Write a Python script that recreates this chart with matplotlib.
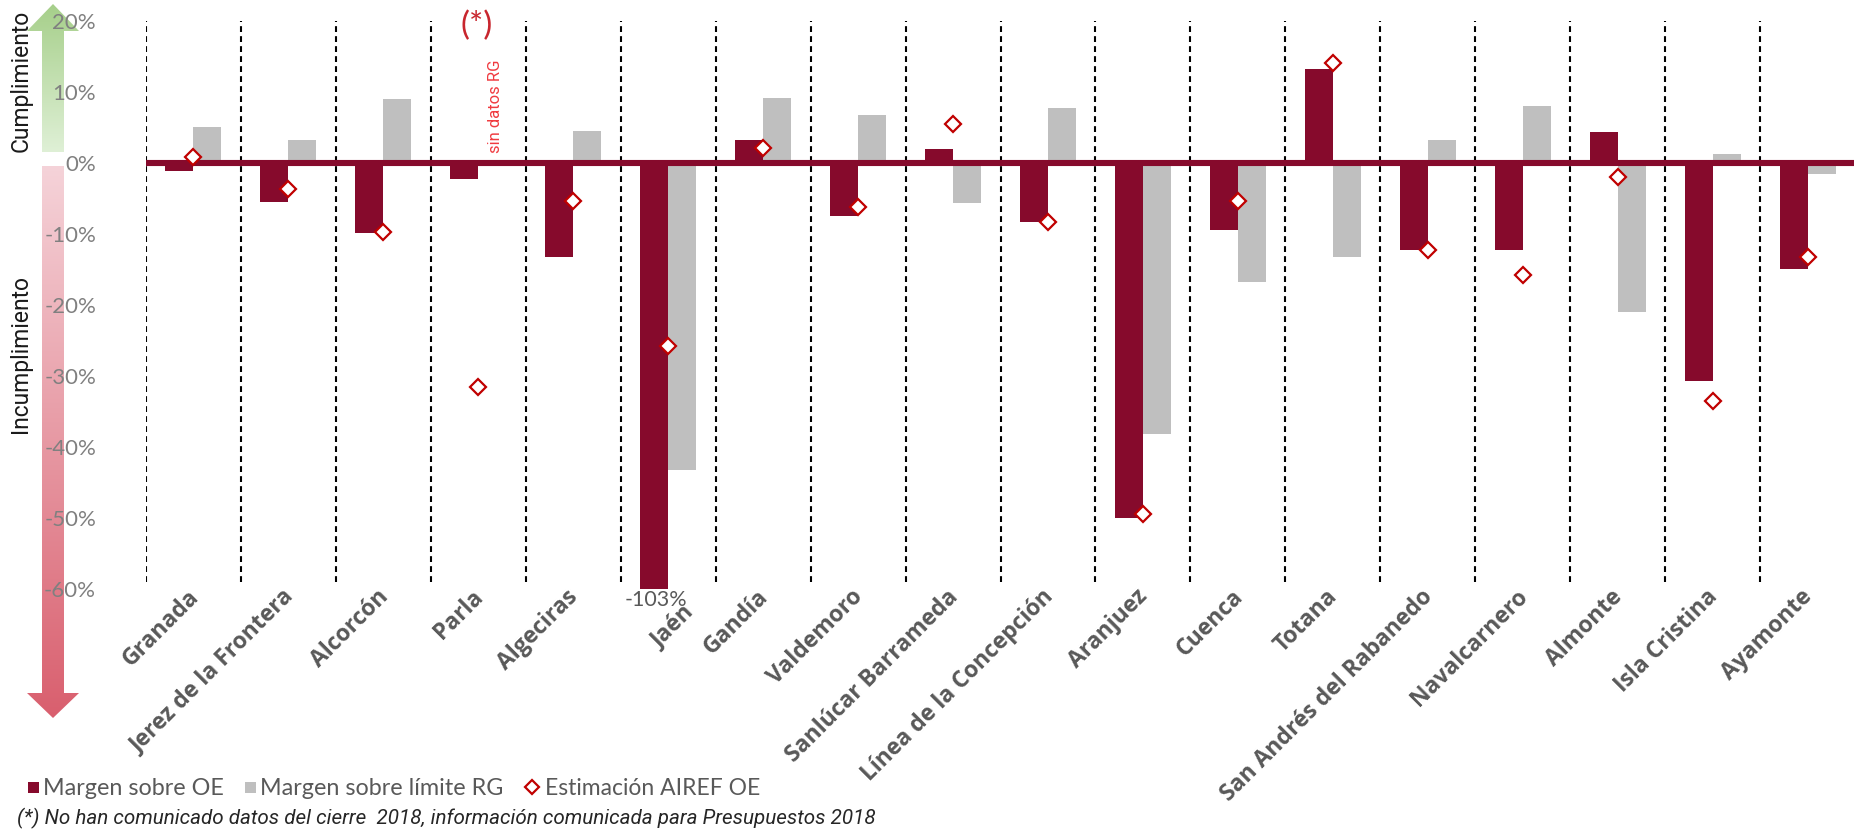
import numpy as np
import matplotlib
matplotlib.use("Agg")
import matplotlib.pyplot as plt
from matplotlib.patches import Polygon, Rectangle
from matplotlib.colors import LinearSegmentedColormap

# ---------------- data ----------------
categories = ["Granada", "Jerez de la Frontera", "Alcorcón", "Parla", "Algeciras", "Jaén",
              "Gandía", "Valdemoro", "Sanlúcar Barrameda", "Línea de la Concepción",
              "Aranjuez", "Cuenca", "Totana", "San Andrés del Rabanedo", "Navalcarnero",
              "Almonte", "Isla Cristina", "Ayamonte"]
margen_oe = [-1.1, -5.5, -9.8, -2.3, -13.2, -103.0, 3.3, -7.5, 2.0, -8.3,
             -50.0, -9.5, 13.3, -12.2, -12.2, 4.3, -30.7, -14.9]
margen_rg = [5.1, 3.3, 9.0, np.nan, 4.5, -43.2, 9.2, 6.8, -5.7, 7.8,
             -38.2, -16.7, -13.2, 3.2, 8.0, -21.0, 1.2, -1.5]
airef_oe = [0.8, -3.6, -9.7, -31.5, -5.3, -25.8, 2.1, -6.2, 5.5, -8.3,
            -49.5, -5.3, 14.1, -12.3, -15.8, -2.0, -33.5, -13.2]
yticks = [20, 10, 0, -10, -20, -30, -40, -50, -60]
ytick_labels = ["20%", "10%", "0%", "-10%", "-20%", "-30%", "-40%", "-50%", "-60%"]
legend_labels = ["Margen sobre OE", "Margen sobre límite RG", "Estimación AIREF OE"]
footnote = "(*) No han comunicado datos del cierre  2018, información comunicada para Presupuestos 2018"
clip_label = "-103%"

MAROON = "#860a2c"
GRAY = "#bfbfbf"
RED = "#c00000"
TXT = "#595959"

W, H = 1854, 830
fig = plt.figure(figsize=(W / 100, H / 100), dpi=100)

# overlay axes in pixel coordinates (for decorations)
ov = fig.add_axes([0, 0, 1, 1], zorder=0)
ov.set_xlim(0, W)
ov.set_ylim(H, 0)
ov.axis("off")

# main axes
left_px, right_px, top_px, bot_px = 146, 1855, 21, 589
ax = fig.add_axes([left_px / W, 1 - bot_px / H, (right_px - left_px) / W, (bot_px - top_px) / H], zorder=1)
ax.patch.set_alpha(0)
n = len(categories)
x = np.arange(n)
bw = 0.295

ax.vlines(x - 0.5, -59, 20, colors="black", linestyles=(0, (2.8, 2.0)), lw=1.5, zorder=1)
ax.bar(x - bw / 2, margen_oe, bw, color=MAROON, zorder=2)
ax.bar(x + bw / 2, margen_rg, bw, color=GRAY, zorder=2)
ax.axhline(0, color=MAROON, lw=4.4, zorder=3)
ax.plot(x, airef_oe, ls="none", marker="D", ms=8, mfc="white", mec=RED, mew=1.6, zorder=4)

ax.set_xlim(-0.5, n - 0.5)
ax.set_ylim(-60, 20)
for s in ax.spines.values():
    s.set_visible(False)
ax.set_xticks([])
ax.set_yticks(yticks)
ax.set_yticklabels(ytick_labels, fontfamily="Lato", fontsize=16, color="#808080")
ax.tick_params(axis="y", length=0, pad=36)

# category labels
j = categories.index("Jaén")
for i, c in enumerate(categories):
    off = (-5, 3) if i != j else (10, -8)
    ax.annotate(c, xy=(i, -60), xycoords="data", xytext=off, textcoords="offset points",
                rotation=45, rotation_mode="anchor", ha="right", va="top",
                fontfamily="Open Sans", fontweight="bold", fontsize=16.5, color=TXT)

# clipped value label for Jaén
ax.annotate(clip_label, xy=(j - bw / 2, -60), xycoords="data", xytext=(1, -1), textcoords="offset points",
            ha="center", va="top", fontfamily="Lato", fontsize=15.5, color=TXT)

# Parla annotations
p = categories.index("Parla")
ax.text(p - 0.02, 21.5, "(*)", ha="center", va="top", fontsize=24, color="#c8262e",
        fontfamily="Lato")
ax.text(p + 0.18, 1.4, "sin datos RG", ha="center", va="bottom", rotation=90, fontsize=12,
        color="#f03a3f", fontfamily="Roboto")

# gradient arrows
def grad_arrow(verts, c_top, c_bot):
    poly = Polygon(verts, closed=True, facecolor="none", edgecolor="none", transform=ov.transData)
    ov.add_patch(poly)
    xs = [v[0] for v in verts]
    ys = [v[1] for v in verts]
    cmap = LinearSegmentedColormap.from_list("g", [c_top, c_bot])
    grad = np.linspace(0, 1, 256).reshape(-1, 1)
    im = ov.imshow(grad, cmap=cmap, extent=(min(xs), max(xs), max(ys), min(ys)),
                   aspect="auto", origin="upper", interpolation="bilinear")
    im.set_clip_path(poly)

cx, sw, hw = 53, 11, 26
grad_arrow([(cx - sw, 152), (cx - sw, 31), (cx - hw, 31), (cx, 4), (cx + hw, 31), (cx + sw, 31), (cx + sw, 152)],
           "#a6cf8a", "#dff0d6")
grad_arrow([(cx - sw, 166), (cx + sw, 166), (cx + sw, 693), (cx + hw, 693), (cx, 718), (cx - hw, 693), (cx - sw, 693)],
           "#f5d3d9", "#d95f6e")
ov.set_xlim(0, W)
ov.set_ylim(H, 0)

ov.text(21, 81, "Cumplimiento", rotation=90, ha="center", va="center", fontsize=16.5,
        fontfamily="Roboto", color="#1a1a1a")
ov.text(21, 354, "Incumplimiento", rotation=90, ha="center", va="center", fontsize=16.5,
        fontfamily="Roboto", color="#1a1a1a")

# legend
ly = 788
ov.add_patch(Rectangle((28, ly - 6), 11, 11, facecolor=MAROON, edgecolor="none"))
ov.text(43, ly, legend_labels[0], ha="left", va="center", fontsize=16.8, fontfamily="Lato", color=TXT)
ov.add_patch(Rectangle((245, ly - 6), 11, 11, facecolor=GRAY, edgecolor="none"))
ov.text(260, ly, legend_labels[1], ha="left", va="center", fontsize=16.8, fontfamily="Lato", color=TXT)
ov.plot([532], [ly - 1], ls="none", marker="D", ms=7.5, mfc="white", mec=RED, mew=1.6)
ov.text(545, ly, legend_labels[2], ha="left", va="center", fontsize=16.5, fontfamily="Lato", color=TXT)

ov.text(17, 818, footnote, ha="left", va="center", fontsize=14.9, fontstyle="italic",
        fontfamily="Roboto", color="#262626")

fig.savefig("out.png", dpi=100)
